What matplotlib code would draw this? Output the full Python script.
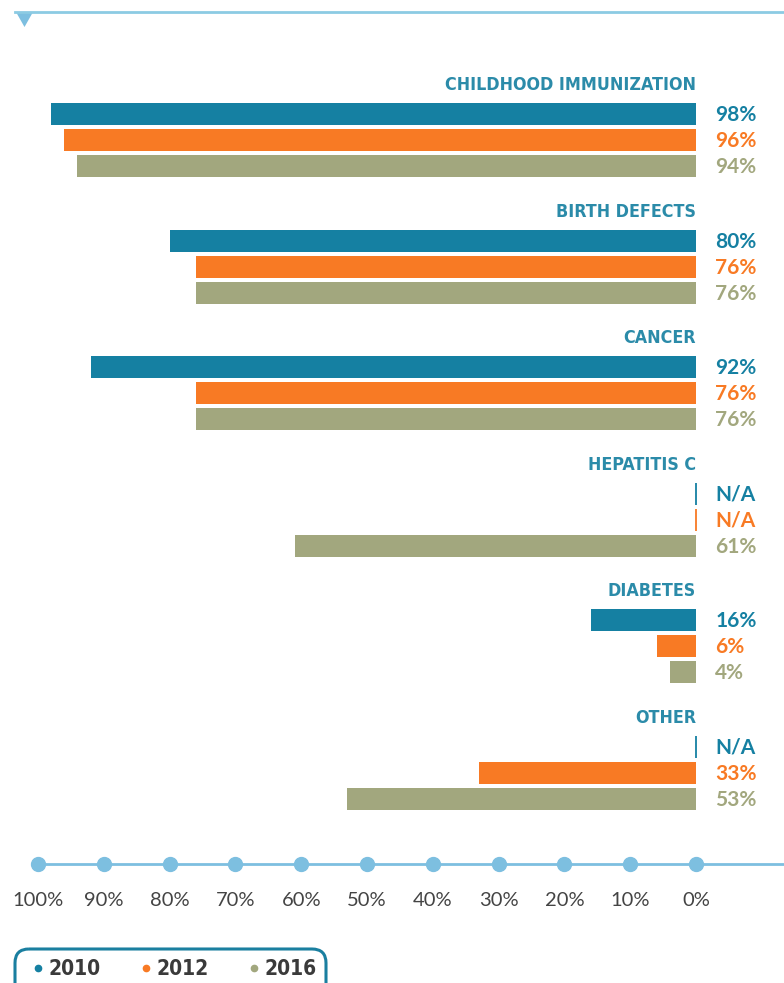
import matplotlib
matplotlib.use("Agg")
import matplotlib.pyplot as plt
import numpy as np
from matplotlib.patches import FancyBboxPatch, Polygon
from matplotlib import font_manager

categories = ["CHILDHOOD IMMUNIZATION", "BIRTH DEFECTS", "CANCER",
              "HEPATITIS C", "DIABETES", "OTHER"]
series_names = ["2010", "2012", "2016"]
values_2010 = [98, 80, 92, np.nan, 16, np.nan]
values_2012 = [96, 76, 76, np.nan, 6, 33]
values_2016 = [94, 76, 76, 61, 4, 53]
tick_values = [100, 90, 80, 70, 60, 50, 40, 30, 20, 10, 0]
tick_labels = ["100%", "90%", "80%", "70%", "60%", "50%", "40%", "30%", "20%", "10%", "0%"]

colors = ["#1580a2", "#f87a24", "#a2a77e"]
title_color = "#2b8ba9"
axis_color = "#7dbfe0"

has_cond = any(f.name == "DejaVu Sans" and str(f.stretch) in ("condensed", "semi-condensed")
               for f in font_manager.fontManager.ttflist)
cond_kw = dict(family=["DejaVu Sans"], fontstretch="condensed") if has_cond else dict(family=["Roboto", "DejaVu Sans"])

W, H = 784, 983
fig = plt.figure(figsize=(W / 100, H / 100), dpi=100)
ax = fig.add_axes([0, 0, 1, 1])
origin_px, px_per_pct = 696, 6.58
ax.set_xlim(origin_px / px_per_pct, (origin_px - W) / px_per_pct)
ax.set_ylim(H, 0)
ax.axis("off")

group_y0, group_gap, row_step, bar_h = 114, 126.6, 26, 22
all_series = [values_2010, values_2012, values_2016]
for g, cat in enumerate(categories):
    base = group_y0 + g * group_gap
    ax.text(0, base - 29, cat, ha="right", va="center", fontsize=12.8,
            fontweight="bold", color=title_color, **cond_kw)
    for s, vals in enumerate(all_series):
        v = vals[g]
        y = base + s * row_step
        if np.isnan(v):
            ax.plot([0, 0], [y - bar_h / 2, y + bar_h / 2], color=colors[s], lw=1.3,
                    solid_capstyle="butt")
            lab = "N/A"
        else:
            ax.barh(y, v, height=bar_h, left=0, color=colors[s], linewidth=0)
            lab = f"{int(v)}%"
        ax.text(-2.9, y + 1, lab, ha="left", va="center", fontsize=15,
                fontweight="bold", color=colors[s], family=["Lato", "DejaVu Sans"])

# axis with dots
axis_y = 864
ax.plot([max(tick_values), ax.get_xlim()[1]], [axis_y, axis_y], color=axis_color, lw=2, zorder=1)
ax.plot(tick_values, [axis_y] * len(tick_values), "o", color=axis_color, ms=10, zorder=2)
for v, lab in zip(tick_values, tick_labels):
    ax.text(v, 901, lab, ha="center", va="center", fontsize=14.5, color="#444444",
            family=["Lato", "DejaVu Sans"])

# overlay decorations in pixel coordinates
ov = fig.add_axes([0, 0, 1, 1])
ov.set_xlim(0, W)
ov.set_ylim(H, 0)
ov.axis("off")
ov.plot([15, W], [12, 12], color="#8ccbe3", lw=2)
ov.add_patch(Polygon([[16, 12], [33, 12], [24.5, 27]], closed=True, color="#7dbfe0", lw=0))

box = FancyBboxPatch((15, 949), 311, 50, boxstyle="round,pad=0,rounding_size=14",
                     fill=False, edgecolor="#1a7fa0", lw=2.2)
ov.add_patch(box)
leg_x = [38, 146, 254]
for x, name, c in zip(leg_x, series_names, colors):
    ov.plot(x, 968, "o", color=c, ms=4.5)
    ov.text(x + 11, 969, name, ha="left", va="center", fontsize=15, fontweight="bold",
            color="#3a3a3a", **cond_kw)

fig.savefig("out.png", dpi=100)
